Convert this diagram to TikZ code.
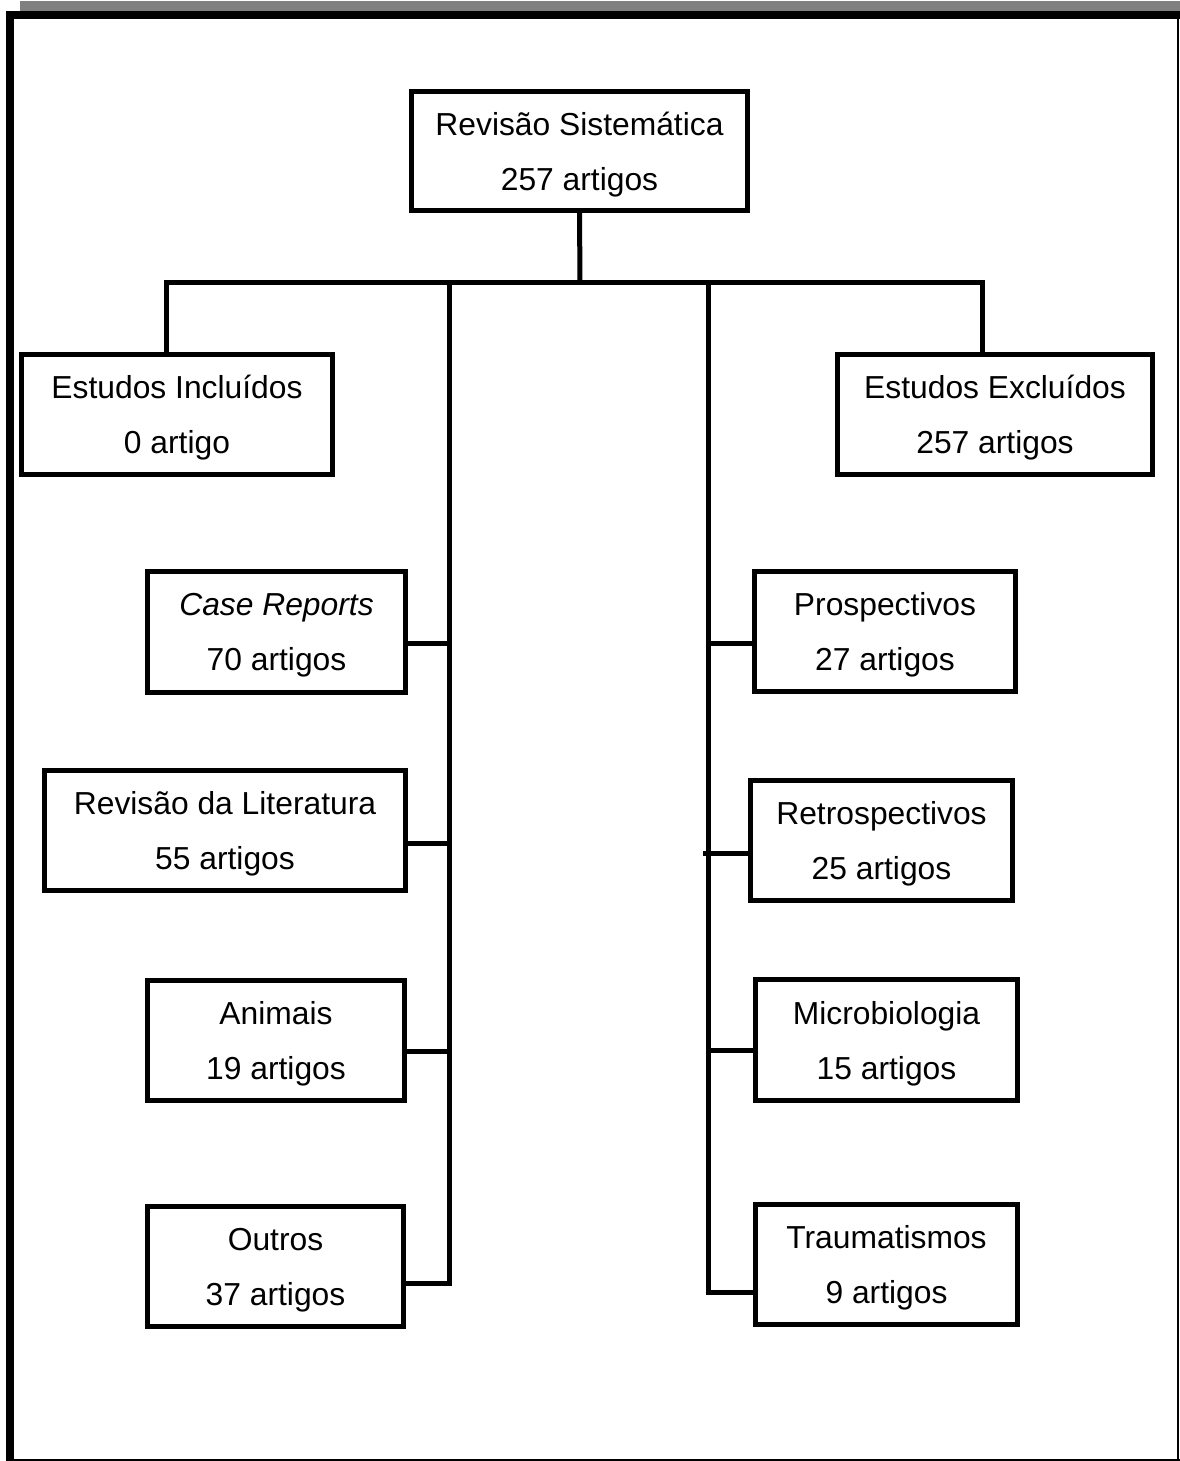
\documentclass[tikz,border=0pt]{standalone}
\usepackage{fontspec}
\setmainfont{Liberation Sans}
\begin{document}
\begin{tikzpicture}[x=1pt,y=-1pt,
  box/.style={draw=black, line width=5pt, rectangle, align=center, inner sep=0pt,
    text depth=0pt, font=\fontsize{31.8}{55}\selectfont},
  conn/.style={draw=black, line width=5pt, line join=miter, line cap=rect}]
\useasboundingbox (0,0) rectangle (1180,1461);
\fill[white] (0,0) rectangle (1180,1461);
% frame
\fill[gray] (20,1) rectangle (1180,11);
\fill[black] (6,11) rectangle (1180,19);
\fill[black] (6,11) rectangle (14,1461);
\draw[line width=2pt] (1177.5,19) -- (1177.5,1461);
\draw[line width=1.5pt] (14,1460) -- (1180,1460);
% boxes
\node[box, minimum width=336pt, minimum height=119pt] (top) at (579.5,151) {Revisão Sistemática\\257 artigos};
\node[box, minimum width=311pt, minimum height=120pt] (inc) at (177,414.5) {Estudos Incluídos\\0 artigo};
\node[box, minimum width=315pt, minimum height=120pt] (exc) at (995,414.5) {Estudos Excluídos\\257 artigos};
\node[box, minimum width=258pt, minimum height=121pt] (case) at (276.5,632) {\itshape Case Reports\\70 artigos};
\node[box, minimum width=361pt, minimum height=120pt] (lit) at (225,830.5) {Revisão da Literatura\\55 artigos};
\node[box, minimum width=257pt, minimum height=120pt] (anim) at (276,1040) {Animais\\19 artigos};
\node[box, minimum width=256pt, minimum height=120pt] (outros) at (275.5,1266.5) {Outros\\37 artigos};
\node[box, minimum width=261pt, minimum height=120pt] (pros) at (885,631.5) {Prospectivos\\27 artigos};
\node[box, minimum width=262pt, minimum height=120pt] (retro) at (881.5,840.5) {Retrospectivos\\25 artigos};
\node[box, minimum width=262pt, minimum height=121pt] (micro) at (886.5,1040) {Microbiologia\\15 artigos};
\node[box, minimum width=262pt, minimum height=120pt] (trauma) at (886.5,1264.5) {Traumatismos\\9 artigos};
% junction coordinates
\coordinate (jT) at (580,282);
\coordinate (jL) at (166.5,282);
\coordinate (jR) at (982,282);
\coordinate (sL) at (449,282);
\coordinate (sR) at (708,282);
\coordinate (sLb) at (449,1283);
\coordinate (sRb) at (708,1292);
\coordinate (cCase) at (449,643);
\coordinate (cLit) at (449,843);
\coordinate (cAnim) at (449,1051);
\coordinate (cPros) at (708,643);
\coordinate (cRetro) at (703,853);
\coordinate (cMicro) at (708,1050);
% connectors
\draw[conn, line cap=butt] (top.south) -- (jT);
\draw[conn] (jL |- inc.north) -- (jL) -- (jR) -- (jR |- exc.north);
\draw[conn] (sL) -- (sLb) -- (outros.east |- sLb);
\draw[conn] (sR) -- (sRb) -- (trauma.west |- sRb);
\draw[conn, line cap=butt] (case.east |- cCase) -- (cCase);
\draw[conn, line cap=butt] (lit.east |- cLit) -- (cLit);
\draw[conn, line cap=butt] (anim.east |- cAnim) -- (cAnim);
\draw[conn, line cap=butt] (cPros) -- (pros.west |- cPros);
\draw[conn, line cap=butt] (cRetro) -- (retro.west |- cRetro);
\draw[conn, line cap=butt] (cMicro) -- (micro.west |- cMicro);
\end{tikzpicture}
\end{document}
